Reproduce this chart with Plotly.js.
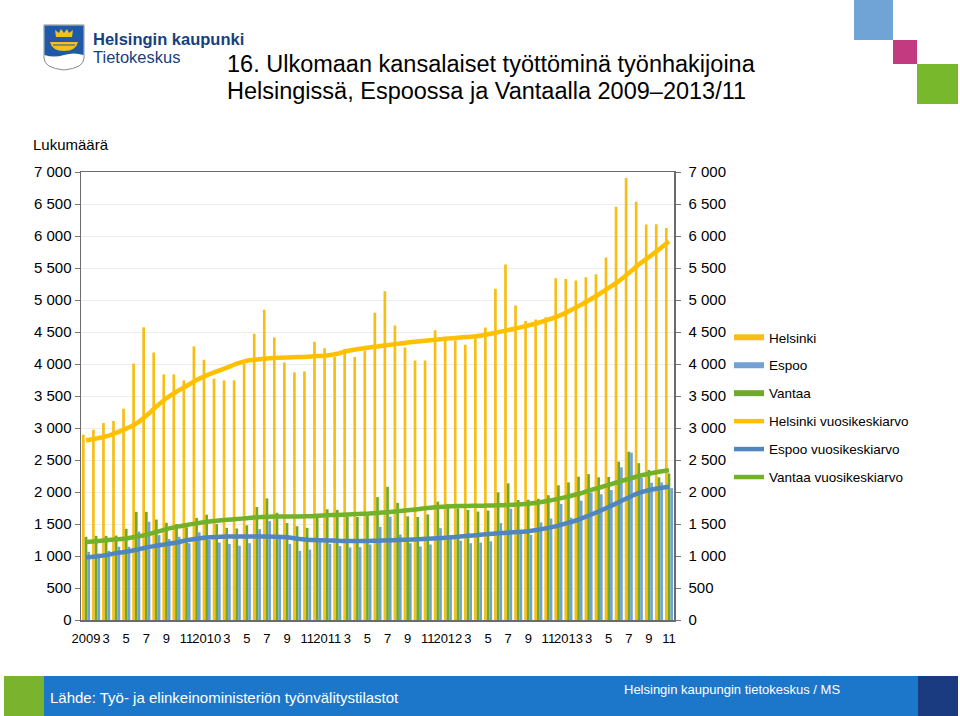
<!DOCTYPE html>
<html>
<head>
<meta charset="utf-8">
<script src="https://cdn.plot.ly/plotly-3.0.1.min.js"></script>
<style>
  html, body { margin: 0; padding: 0; background: #fff; }
  #chart { width: 960px; height: 716px; }
</style>
</head>
<body>
<div id="chart"></div>
<script>
// ---- Data ----
const months = [
  '2009/1','2009/2','2009/3','2009/4','2009/5','2009/6','2009/7','2009/8','2009/9','2009/10','2009/11','2009/12',
  '2010/1','2010/2','2010/3','2010/4','2010/5','2010/6','2010/7','2010/8','2010/9','2010/10','2010/11','2010/12',
  '2011/1','2011/2','2011/3','2011/4','2011/5','2011/6','2011/7','2011/8','2011/9','2011/10','2011/11','2011/12',
  '2012/1','2012/2','2012/3','2012/4','2012/5','2012/6','2012/7','2012/8','2012/9','2012/10','2012/11','2012/12',
  '2013/1','2013/2','2013/3','2013/4','2013/5','2013/6','2013/7','2013/8','2013/9','2013/10','2013/11'
];
const tickText = ['2009','3','5','7','9','11','2010','3','5','7','9','11','2011','3','5','7','9','11',
                  '2012','3','5','7','9','11','2013','3','5','7','9','11'];

const helsinki = [2896,2974,3078,3110,3302,4009,4576,4181,3838,3838,3744,4274,
                  4066,3770,3744,3744,4004,4472,4846,4415,4025,3869,3884,4347,
                  4248,4108,4238,4108,4212,4800,5138,4602,4259,4056,4056,4529,
                  4358,4368,4300,4410,4571,5174,5554,4914,4670,4696,4732,5340,
                  5330,5304,5356,5403,5663,6458,6906,6536,6178,6183,6126];
const espoo = [1066,1040,1080,1145,1145,1380,1535,1326,1265,1300,1200,1370,
               1250,1210,1190,1160,1200,1420,1545,1320,1190,1080,1100,1230,
               1190,1155,1135,1140,1180,1456,1615,1335,1200,1150,1180,1435,
               1290,1240,1200,1210,1230,1515,1740,1360,1330,1524,1586,1815,
               1600,1865,1990,1965,2030,2385,2615,2220,2145,2150,2060];
const vantaa = [1300,1315,1315,1320,1425,1690,1690,1570,1520,1500,1450,1595,
                1645,1500,1440,1430,1480,1765,1900,1675,1515,1465,1440,1655,
                1730,1720,1620,1610,1640,1920,2080,1830,1620,1610,1650,1850,
                1815,1745,1720,1695,1710,1995,2135,1875,1880,1895,1950,2105,
                2150,2240,2280,2230,2235,2475,2630,2450,2345,2230,2290];
const helsinkiAvg = [2805,2835,2870,2925,2990,3068,3190,3335,3465,3567,3656,3749,
                     3822,3884,3942,4004,4051,4072,4087,4098,4103,4108,4113,4124,
                     4134,4160,4202,4230,4254,4275,4295,4316,4335,4352,4368,4384,
                     4397,4410,4423,4436,4465,4498,4530,4565,4602,4644,4693,4748,
                     4822,4904,4992,5086,5188,5294,5420,5554,5670,5788,5918];
const espooAvg = [975,993,1014,1045,1066,1097,1134,1160,1186,1212,1245,1270,
                  1288,1298,1303,1305,1305,1305,1305,1302,1292,1270,1255,1248,
                  1243,1238,1235,1235,1236,1240,1245,1250,1255,1262,1270,1278,
                  1288,1300,1315,1328,1342,1355,1365,1375,1388,1410,1440,1475,
                  1520,1570,1630,1695,1765,1840,1915,1985,2030,2060,2082];
const vantaaAvg = [1220,1232,1245,1260,1275,1300,1330,1375,1420,1455,1485,1510,
                   1535,1550,1565,1578,1590,1605,1615,1617,1617,1617,1620,1628,
                   1636,1642,1648,1655,1662,1672,1685,1698,1715,1732,1750,1765,
                   1775,1780,1783,1786,1788,1792,1798,1805,1815,1835,1862,1895,
                   1930,1970,2020,2065,2110,2160,2205,2250,2285,2315,2340];

const seriesNames = ['Helsinki','Espoo','Vantaa',
  'Helsinki vuosikeskiarvo','Espoo vuosikeskiarvo','Vantaa vuosikeskiarvo'];

// ---- Styles ----
const C = {
  hBar: '#F7BE16', eBar: '#72A2D4', vBar: '#6FAA2B',
  hLine: '#FFC000', eLine: '#4F86C0', vLine: '#72B22A'
};
const FONT = 'Arial, "Liberation Sans", sans-serif';

// pixel -> paper helpers for decorative shapes (plot area 81..674 x 172..620)
const L = 81, R = 674, T = 172, B = 620;
const px = x => (x - L) / (R - L);
const py = y => (B - y) / (B - T);
const P = (x, y) => px(x).toFixed(5) + ',' + py(y).toFixed(5);

const tickVals = months.filter((m, i) => i % 2 === 0);

const bar = (name, y, color) => ({
  type: 'bar', name, x: months, y, marker: { color, line: { width: 0 } },
  showlegend: false, hoverinfo: 'x+y+name'
});
const avgLine = (name, y, color, rank) => ({
  type: 'scatter', mode: 'lines', name, x: months, y,
  line: { color, width: 4.5, shape: 'spline', smoothing: 0.6 },
  legendrank: rank, legendgroup: name
});
const legendBar = (name, color, rank) => ({
  type: 'scatter', mode: 'lines', name, x: [null], y: [null], yaxis: 'y2',
  line: { color, width: 6 }, legendrank: rank, legendgroup: name, hoverinfo: 'skip'
});

const traces = [
  bar(seriesNames[0], helsinki, C.hBar),
  bar(seriesNames[2], vantaa, C.vBar),
  bar(seriesNames[1], espoo, C.eBar),
  avgLine(seriesNames[3], helsinkiAvg, C.hLine, 4),
  avgLine(seriesNames[4], espooAvg, C.eLine, 5),
  avgLine(seriesNames[5], vantaaAvg, C.vLine, 6),
  legendBar(seriesNames[0], C.hBar, 1),
  legendBar(seriesNames[1], C.eBar, 2),
  legendBar(seriesNames[2], C.vBar, 3)
];

const yCommon = {
  range: [0, 7000], tick0: 0, dtick: 500, tickformat: ',d',
  ticks: 'outside', ticklen: 5, tickcolor: '#777', tickwidth: 1,
  showline: true, linecolor: '#6b6b6b', linewidth: 1.5,
  tickfont: { family: FONT, size: 15, color: '#000' }, zeroline: false,
  fixedrange: true
};

const shapes = [
  // top-right decorative squares
  { type: 'rect', xref: 'paper', yref: 'paper', x0: px(854), x1: px(893), y0: py(0), y1: py(40), fillcolor: '#70A3D6', line: { width: 0 } },
  { type: 'rect', xref: 'paper', yref: 'paper', x0: px(893), x1: px(917), y0: py(40), y1: py(64), fillcolor: '#C33A80', line: { width: 0 } },
  { type: 'rect', xref: 'paper', yref: 'paper', x0: px(917), x1: px(958), y0: py(64), y1: py(104), fillcolor: '#77B82C', line: { width: 0 } },
  // footer band
  { type: 'rect', xref: 'paper', yref: 'paper', x0: px(4), x1: px(958), y0: py(676), y1: py(716), fillcolor: '#1C77CB', line: { width: 0 } },
  { type: 'rect', xref: 'paper', yref: 'paper', x0: px(4), x1: px(44), y0: py(676), y1: py(716), fillcolor: '#7AB32E', line: { width: 0 } },
  { type: 'rect', xref: 'paper', yref: 'paper', x0: px(918), x1: px(958), y0: py(676), y1: py(716), fillcolor: '#1B3B80', line: { width: 0 } },
  // coat of arms (shield)
  { type: 'path', xref: 'paper', yref: 'paper',
    path: 'M' + P(44,25) + 'L' + P(84,25) + 'L' + P(84,58) + 'Q' + P(84,68) + ' ' + P(64,70) + 'Q' + P(44,68) + ' ' + P(44,58) + 'Z',
    fillcolor: '#ffffff', line: { color: '#8a8a8a', width: 1 } },
  { type: 'path', xref: 'paper', yref: 'paper',
    path: 'M' + P(44.5,25.5) + 'L' + P(83.5,25.5) + 'L' + P(83.5,55) + 'Q' + P(74,52) + ' ' + P(64,55) + 'Q' + P(54,58) + ' ' + P(44.5,55) + 'Z',
    fillcolor: '#1E5AA8', line: { width: 0 } },
  // crown
  { type: 'path', xref: 'paper', yref: 'paper',
    path: 'M' + P(56,37) + 'L' + P(55,30) + 'L' + P(59,33) + 'L' + P(61,29) + 'L' + P(64,33) + 'L' + P(67,29) + 'L' + P(69,33) + 'L' + P(73,30) + 'L' + P(72,37) + 'Z',
    fillcolor: '#F2C21B', line: { width: 0 } },
  // boat
  { type: 'path', xref: 'paper', yref: 'paper',
    path: 'M' + P(50,42) + 'L' + P(78,42) + 'Q' + P(76,51) + ' ' + P(64,51) + 'Q' + P(52,51) + ' ' + P(50,42) + 'Z',
    fillcolor: '#F2C21B', line: { width: 0 } },
  { type: 'path', xref: 'paper', yref: 'paper',
    path: 'M' + P(53,45) + 'L' + P(75,45),
    line: { color: '#1E5AA8', width: 1 } }
];

const annotations = [
  { xref: 'paper', yref: 'paper', x: px(91), y: py(39), xanchor: 'left', yanchor: 'middle', showarrow: false,
    text: '<b>Helsingin kaupunki</b>', font: { family: FONT, size: 16.5, color: '#17407F' } },
  { xref: 'paper', yref: 'paper', x: px(91), y: py(57), xanchor: 'left', yanchor: 'middle', showarrow: false,
    text: 'Tietokeskus', font: { family: FONT, size: 16.5, color: '#17407F' } },
  { xref: 'paper', yref: 'paper', x: px(225), y: py(64), xanchor: 'left', yanchor: 'middle', showarrow: false,
    text: '16. Ulkomaan kansalaiset työttöminä työnhakijoina', font: { family: FONT, size: 23.5, color: '#000' } },
  { xref: 'paper', yref: 'paper', x: px(225), y: py(91), xanchor: 'left', yanchor: 'middle', showarrow: false,
    text: 'Helsingissä, Espoossa ja Vantaalla 2009–2013/11', font: { family: FONT, size: 23.5, color: '#000' } },
  { xref: 'paper', yref: 'paper', x: px(31), y: py(145), xanchor: 'left', yanchor: 'middle', showarrow: false,
    text: 'Lukumäärä', font: { family: FONT, size: 15, color: '#000' } },
  { xref: 'paper', yref: 'paper', x: px(48), y: py(697), xanchor: 'left', yanchor: 'middle', showarrow: false,
    text: 'Lähde: Työ- ja elinkeinoministeriön työnvälitystilastot', font: { family: FONT, size: 15, color: '#fff' } },
  { xref: 'paper', yref: 'paper', x: px(622), y: py(689), xanchor: 'left', yanchor: 'middle', showarrow: false,
    text: 'Helsingin kaupungin tietokeskus / MS', font: { family: FONT, size: 13, color: '#fff' } }
];

const layout = {
  width: 960, height: 716,
  margin: { l: L, r: 960 - R, t: T, b: 716 - B, pad: 0 },
  paper_bgcolor: '#fff', plot_bgcolor: '#fff',
  separators: ', ',
  barmode: 'group', bargap: 0.2, bargroupgap: 0,
  font: { family: FONT, size: 13, color: '#000' },
  xaxis: {
    type: 'category', categoryorder: 'array', categoryarray: months,
    range: [-0.5, months.length - 0.5],
    tickmode: 'array', tickvals: tickVals, ticktext: tickText,
    ticks: 'outside', ticklen: 6, tickcolor: 'rgba(0,0,0,0)', tickangle: 0,
    tickfont: { family: FONT, size: 13, color: '#000' },
    showline: true, linecolor: '#6b6b6b', linewidth: 1.5, mirror: true,
    showgrid: false, fixedrange: true
  },
  yaxis: Object.assign({}, yCommon, { side: 'left', showgrid: true, gridcolor: '#EDEDED', gridwidth: 1 }),
  yaxis2: Object.assign({}, yCommon, { side: 'right', overlaying: 'y', showgrid: false, ticklabelstandoff: 5 }),
  showlegend: true,
  legend: {
    x: px(729), y: py(322), xanchor: 'left', yanchor: 'top',
    font: { family: FONT, size: 13.5, color: '#000' },
    bgcolor: 'rgba(0,0,0,0)', borderwidth: 0,
    tracegroupgap: 7.4, itemwidth: 30, traceorder: 'grouped'
  },
  shapes, annotations
};

Plotly.newPlot('chart', traces, layout, { displayModeBar: false, staticPlot: true });
</script>
</body>
</html>
